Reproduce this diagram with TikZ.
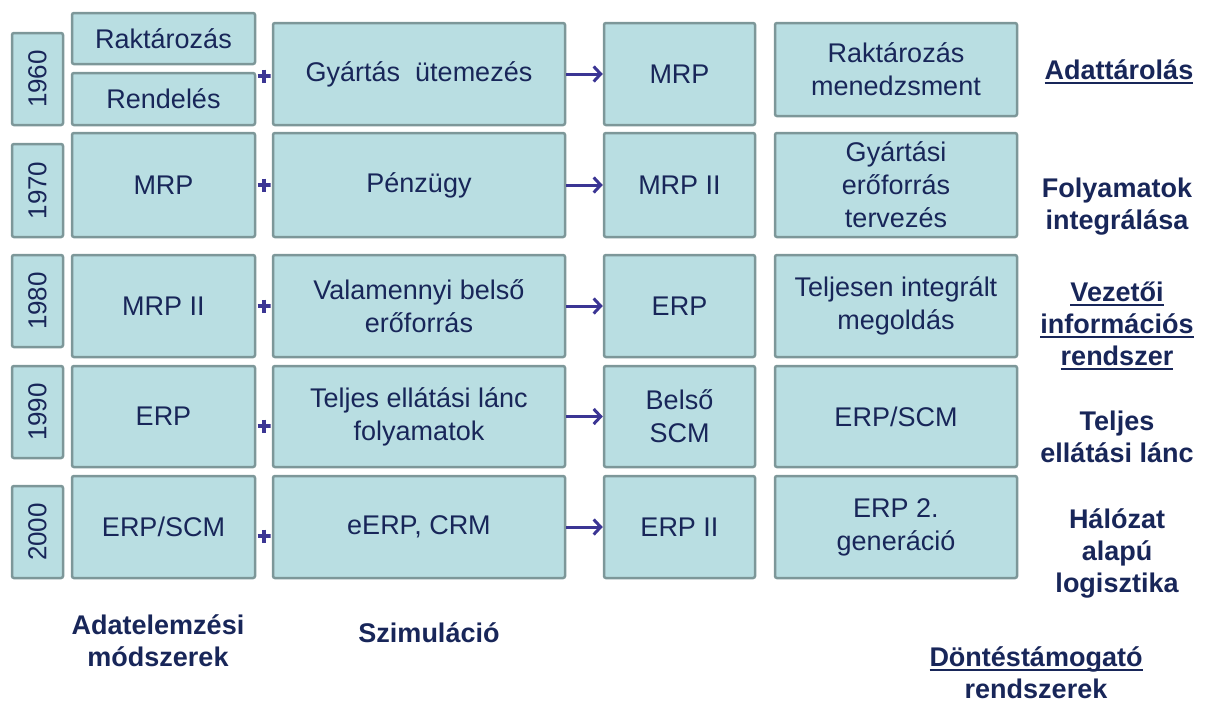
\documentclass[tikz,border=0pt]{standalone}
\usepackage{fontspec}
\setmainfont{Liberation Sans}
\usetikzlibrary{arrows.meta}
\definecolor{boxfill}{HTML}{B9DEE2}
\definecolor{boxline}{HTML}{7D9799}
\definecolor{navy}{HTML}{182659}
\definecolor{arrowc}{HTML}{3B3594}
\newcommand\myul[1]{\setbox0\hbox{#1}\rlap{\rule[-4.5pt]{\wd0}{2pt}}\box0}
\newcommand\bx[6]{\node[boxstyle, minimum width={#4-#2}, minimum height={#5-#3}] (#1) at ({(#2+#4)/2},{(#3+#5)/2}) {#6};}
\newcommand\yr[5]{\node[boxstyle, minimum width={#4-#2}, minimum height={#5-#3}] (y#1) at ({(#2+#4)/2},{(#3+#5)/2}) {\rotatebox{90}{\fontsize{26}{30}\selectfont #1}};}
\begin{document}
\begin{tikzpicture}[x=1pt,y=-1pt,
  boxstyle/.style={draw=boxline, fill=boxfill, line width=2.5pt, rounded corners=2pt,
    inner sep=0pt, text=navy, align=center, font=\fontsize{27}{33}\selectfont},
  lbl/.style={text=navy, align=center, font=\fontsize{27}{32}\selectfont\bfseries},
  plusnode/.style={inner sep=0pt, minimum size=13pt,
    path picture={\draw[arrowc, line width=4pt]
      (path picture bounding box.north) -- (path picture bounding box.south)
      (path picture bounding box.west) -- (path picture bounding box.east);}},
  arr/.style={draw=arrowc, line width=3pt, -{Straight Barb[length=7pt,width=15pt,line width=3pt]}}]
\useasboundingbox (0,0) rectangle (1211,705);
% row 1960
\yr{1960}{12}{33}{63}{125}
\bx{rak}{72}{13}{255}{64}{Raktározás}
\bx{ren}{72}{73}{255}{125}{Rendelés}
\bx{gy}{273}{23}{565}{125}{Gyártás\ \ ütemezés}
\bx{mrpa}{604}{23}{755}{125}{MRP}
\bx{rm}{775}{23}{1017}{116}{Raktározás\\menedzsment}
% row 1970
\yr{1970}{12}{144}{63}{237}
\bx{mrpb}{72}{133}{255}{237}{MRP}
\bx{pen}{273}{133}{565}{237}{Pénzügy}
\bx{mrpiia}{604}{133}{755}{237}{MRP II}
\bx{gye}{775}{133}{1017}{237}{Gyártási\\erőforrás\\tervezés}
% row 1980
\yr{1980}{12}{255}{63}{347}
\bx{mrpiib}{72}{255}{255}{357}{MRP II}
\bx{val}{273}{255}{565}{357}{Valamennyi belső\\erőforrás}
\bx{erpa}{604}{255}{755}{357}{ERP}
\bx{tel}{775}{255}{1017}{357}{Teljesen integrált\\megoldás}
% row 1990
\yr{1990}{12}{366}{63}{458}
\bx{erpb}{72}{366}{255}{467}{ERP}
\bx{tea}{273}{366}{565}{467}{Teljes ellátási lánc\\folyamatok}
\bx{bel}{604}{366}{755}{467}{Belső\\SCM}
\bx{scma}{775}{366}{1017}{467}{ERP/SCM}
% row 2000
\yr{2000}{12}{486}{63}{578}
\bx{scmb}{72}{476}{255}{578}{ERP/SCM}
\bx{eerp}{273}{476}{565}{578}{eERP, CRM}
\bx{erpii}{604}{476}{755}{578}{ERP II}
\bx{gen}{775}{476}{1017}{578}{ERP 2.\\generáció}
% plus signs
\node[plusnode] (p1) at (264,76) {};
\node[plusnode] (p2) at (264,185) {};
\node[plusnode] (p3) at (264,306) {};
\node[plusnode] (p4) at (264,426) {};
\node[plusnode] (p5) at (264,536) {};
% arrows
\draw[arr] (gy.east) -- (mrpa.west);
\draw[arr] (pen.east) -- (mrpiia.west);
\draw[arr] (val.east) -- (erpa.west);
\draw[arr] (tea.east) -- (bel.west);
\draw[arr] (eerp.east) -- (erpii.west);
% right labels
\node[lbl] (l1) at (1119,72) {\myul{Adattárolás}};
\node[lbl] (l2) at (1117,207) {Folyamatok\\integrálása};
\node[lbl] (l3) at (1117,326) {\myul{Vezetői}\\\myul{információs}\\\myul{rendszer}};
\node[lbl] (l4) at (1117,437) {Teljes\\ellátási lánc};
\node[lbl] (l5) at (1117,553) {Hálózat\\alapú\\logisztika};
% bottom labels
\node[lbl] (b1) at (158,641) {Adatelemzési\\módszerek};
\node[lbl] (b2) at (429,633) {Szimuláció};
\node[lbl] (b3) at (1036,673) {\myul{Döntéstámogató}\\rendszerek};
\end{tikzpicture}
\end{document}
